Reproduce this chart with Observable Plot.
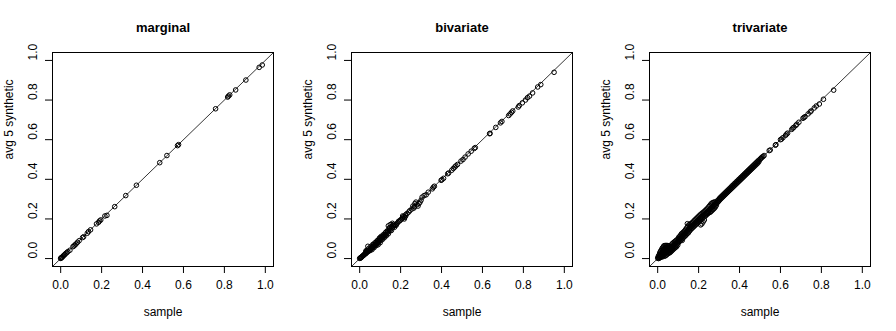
<!DOCTYPE html>
<html>
<head>
<meta charset="utf-8">
<script src="https://cdn.jsdelivr.net/npm/d3@7"></script>
<script src="https://cdn.jsdelivr.net/npm/@observablehq/plot@0.6"></script>
<style>
  body { margin: 0; background: white; }
  #wrap { position: relative; width: 896px; height: 331px; background: white; }
</style>
</head>
<body>
<div id="wrap"></div>
<script>
// Panel titles
const titles = ["marginal", "bivariate", "trivariate"];
const xLabel = "sample";
const yLabel = "avg 5 synthetic";
const tickValues = [0, 0.2, 0.4, 0.6, 0.8, 1.0];
const axisDomain = [-0.04, 1.04];

// [sample, avg 5 synthetic]
const marginalPts = [
  [0.985,0.977],[0.97,0.965],[0.905,0.901],[0.855,0.851],[0.826,0.826],[0.82,0.82],[0.816,0.815],
  [0.757,0.756],[0.576,0.575],[0.571,0.57],[0.519,0.52],[0.484,0.484],[0.37,0.37],[0.318,0.318],
  [0.264,0.262],[0.226,0.218],[0.216,0.215],[0.196,0.195],[0.19,0.19],[0.185,0.183],[0.175,0.175],
  [0.146,0.145],[0.136,0.136],[0.13,0.128],[0.112,0.11],[0.107,0.106],[0.09,0.09],[0.082,0.082],
  [0.075,0.074],[0.07,0.069],[0.065,0.064],[0.06,0.06],[0.045,0.042],[0.035,0.035],[0.03,0.03],
  [0.025,0.026],[0.02,0.02],[0.016,0.017],[0.012,0.012],[0.008,0.008],[0.005,0.006],[0.003,0.004],
  [0.001,0.002],[0.0,0.001]
];

const bivariatePts = [
  [0.95,0.94],[0.885,0.878],[0.87,0.866],[0.845,0.836],[0.83,0.82],[0.82,0.812],[0.81,0.8],
  [0.795,0.786],[0.78,0.772],[0.775,0.765],[0.748,0.745],[0.742,0.738],[0.735,0.73],[0.728,0.722],
  [0.695,0.692],[0.688,0.685],[0.665,0.662],[0.637,0.632],[0.635,0.63],[0.565,0.56],[0.56,0.556],
  [0.545,0.542],[0.53,0.528],[0.515,0.512],[0.505,0.5],[0.495,0.492],[0.478,0.475],[0.47,0.468],
  [0.465,0.462],[0.458,0.455],[0.45,0.446],[0.435,0.432],[0.43,0.428],[0.41,0.405],[0.402,0.398],
  [0.398,0.395],[0.365,0.365],[0.36,0.36],[0.355,0.352],[0.335,0.335],[0.325,0.322],[0.315,0.318],
  [0.305,0.31],[0.3,0.295],[0.295,0.285],[0.29,0.278],[0.285,0.265],[0.28,0.272],[0.275,0.285],
  [0.27,0.278],[0.268,0.262],[0.265,0.255],[0.26,0.265],[0.255,0.25],[0.245,0.242],[0.24,0.235],
  [0.232,0.228],[0.225,0.215],[0.22,0.208],[0.218,0.2],[0.215,0.212],[0.21,0.205],[0.205,0.2],
  [0.195,0.19],[0.19,0.188],[0.18,0.175],[0.178,0.168],[0.175,0.17],[0.17,0.168],[0.165,0.165],
  [0.16,0.178],[0.16,0.155],[0.155,0.16],[0.15,0.172],[0.15,0.148],[0.148,0.14],[0.145,0.15],
  [0.14,0.165],[0.14,0.138],[0.135,0.13],[0.13,0.135],[0.128,0.122],[0.125,0.118],[0.12,0.12],
  [0.118,0.112],[0.115,0.108],[0.11,0.11],[0.108,0.1],[0.105,0.105],[0.1,0.098],[0.1,0.09],
  [0.098,0.105],[0.095,0.092],[0.092,0.085],[0.09,0.078],[0.088,0.09],[0.085,0.08],[0.082,0.075],
  [0.08,0.082],[0.078,0.07],[0.075,0.072],[0.072,0.065],[0.07,0.062],[0.068,0.07],[0.065,0.058],
  [0.062,0.06],[0.06,0.052],[0.058,0.055],[0.055,0.05],[0.052,0.045],[0.05,0.048],[0.048,0.042],
  [0.045,0.04],[0.042,0.038],[0.04,0.062],[0.04,0.035],[0.038,0.04],[0.035,0.03],[0.032,0.032],
  [0.03,0.025],[0.028,0.028],[0.025,0.022],[0.022,0.02],[0.02,0.018],[0.018,0.015],[0.015,0.014],
  [0.012,0.01],[0.01,0.009],[0.008,0.006],[0.006,0.005],[0.004,0.004],[0.002,0.002],[0.0,0.001],
  [0.03,0.038],[0.035,0.042],[0.045,0.052],[0.05,0.04],[0.055,0.062],[0.06,0.045],[0.065,0.072],
  [0.07,0.055],[0.075,0.08],[0.08,0.065],[0.085,0.09],[0.09,0.07],[0.095,0.1],[0.1,0.08],
  [0.105,0.112],[0.11,0.095],[0.115,0.12],[0.12,0.105],[0.125,0.13],[0.13,0.115],[0.135,0.14],
  [0.14,0.125],[0.145,0.155],[0.155,0.142],[0.165,0.172],[0.17,0.158],[0.185,0.18],[0.2,0.195],
  [0.21,0.215],[0.225,0.222]
];

const trivariatePts = [
  [0,0.002],[0.002,0.008],[0.004,0.0],[0.005,0.015],[0.006,0.006],[0.008,0.02],[0.008,0.003],
  [0.01,0.012],[0.01,0.028],[0.012,0.005],[0.013,0.035],[0.014,0.018],[0.015,0.008],[0.016,0.04],
  [0.017,0.025],[0.018,0.012],[0.02,0.048],[0.02,0.03],[0.021,0.018],[0.022,0.008],[0.024,0.055],
  [0.024,0.038],[0.025,0.022],[0.026,0.012],[0.028,0.06],[0.028,0.045],[0.029,0.03],[0.03,0.018],
  [0.031,0.065],[0.032,0.05],[0.033,0.036],[0.034,0.022],[0.035,0.012],[0.036,0.066],[0.037,0.055],
  [0.038,0.042],[0.039,0.028],[0.04,0.016],[0.041,0.066],[0.042,0.056],[0.043,0.045],[0.044,0.032],
  [0.045,0.02],[0.046,0.066],[0.047,0.058],[0.048,0.048],[0.049,0.036],[0.05,0.025],[0.051,0.065],
  [0.052,0.055],[0.053,0.045],[0.054,0.032],[0.055,0.028],[0.056,0.064],[0.057,0.052],[0.058,0.04],
  [0.06,0.03],[0.061,0.06],[0.062,0.05],[0.063,0.042],[0.065,0.035],[0.066,0.068],[0.067,0.058],
  [0.068,0.048],[0.07,0.04],[0.071,0.075],[0.072,0.062],[0.074,0.052],[0.075,0.045],[0.076,0.08],
  [0.078,0.068],[0.079,0.058],[0.08,0.05],[0.082,0.085],[0.083,0.072],[0.085,0.062],[0.086,0.055],
  [0.088,0.09],[0.089,0.078],[0.09,0.068],[0.092,0.06],[0.094,0.095],[0.095,0.085],[0.096,0.075],
  [0.098,0.068],[0.1,0.1],[0.1,0.088],[0.101,0.08],
  [0.103,0.108],[0.104,0.095],[0.106,0.085],[0.108,0.112],[0.109,0.1],[0.11,0.09],[0.112,0.118],
  [0.113,0.105],[0.115,0.095],[0.116,0.125],[0.118,0.11],[0.12,0.092],[0.12,0.1],[0.122,0.13],
  [0.123,0.116],[0.125,0.105],[0.127,0.135],[0.128,0.122],[0.13,0.11],[0.132,0.14],[0.133,0.127],
  [0.135,0.115],[0.137,0.148],[0.138,0.132],[0.14,0.12],[0.142,0.155],[0.143,0.138],[0.145,0.176],
  [0.145,0.127],[0.147,0.162],[0.148,0.145],[0.15,0.13],[0.152,0.17],[0.153,0.15],[0.155,0.138],
  [0.157,0.172],[0.158,0.156],[0.16,0.145],[0.162,0.176],[0.163,0.16],[0.165,0.15],[0.167,0.18],
  [0.168,0.165],[0.17,0.155],[0.172,0.184],[0.173,0.17],[0.175,0.16],[0.177,0.19],[0.178,0.175],
  [0.18,0.165],[0.182,0.195],[0.183,0.18],[0.185,0.17],[0.187,0.2],[0.188,0.185],[0.19,0.175],
  [0.192,0.205],[0.193,0.19],[0.195,0.18],[0.197,0.21],[0.198,0.195],[0.2,0.185],
  [0.202,0.215],[0.203,0.2],[0.205,0.19],[0.207,0.22],[0.208,0.205],[0.21,0.17],[0.21,0.195],
  [0.212,0.225],[0.213,0.21],[0.215,0.2],[0.216,0.175],[0.218,0.23],[0.219,0.215],[0.22,0.205],
  [0.222,0.185],[0.224,0.235],[0.225,0.22],[0.227,0.21],[0.228,0.195],[0.23,0.24],[0.231,0.225],
  [0.233,0.215],[0.235,0.245],[0.236,0.23],[0.238,0.22],[0.24,0.25],[0.241,0.235],[0.243,0.225],
  [0.245,0.255],[0.246,0.24],[0.248,0.23],[0.25,0.262],[0.251,0.245],[0.253,0.232],[0.255,0.268],
  [0.256,0.25],[0.258,0.235],[0.26,0.275],[0.261,0.255],[0.263,0.24],[0.265,0.28],[0.266,0.26],
  [0.268,0.245],[0.27,0.282],[0.271,0.265],[0.273,0.25],[0.275,0.285],[0.276,0.27],[0.278,0.255],
  [0.28,0.285],[0.281,0.275],[0.283,0.262],[0.285,0.28],[0.287,0.27],[0.29,0.29],[0.292,0.282],
  [0.295,0.295],[0.297,0.288],[0.3,0.3],[0.3,0.292],
  [0.303,0.305],[0.305,0.298],[0.308,0.31],[0.31,0.303],[0.313,0.315],[0.315,0.308],[0.318,0.32],
  [0.32,0.313],[0.323,0.325],[0.325,0.318],[0.328,0.33],[0.33,0.323],[0.333,0.335],[0.335,0.328],
  [0.338,0.34],[0.34,0.333],[0.343,0.345],[0.345,0.338],[0.348,0.35],[0.35,0.343],[0.353,0.355],
  [0.355,0.348],[0.358,0.36],[0.36,0.353],[0.363,0.366],[0.365,0.358],[0.368,0.37],[0.37,0.363],
  [0.373,0.376],[0.375,0.368],[0.378,0.38],[0.38,0.373],[0.383,0.386],[0.385,0.378],[0.388,0.39],
  [0.39,0.383],[0.393,0.396],[0.395,0.388],[0.398,0.4],[0.4,0.393],[0.403,0.406],[0.405,0.398],
  [0.408,0.41],[0.41,0.403],[0.413,0.416],[0.415,0.408],[0.418,0.42],[0.42,0.413],[0.423,0.426],
  [0.425,0.418],[0.428,0.43],[0.43,0.423],[0.433,0.436],[0.435,0.428],[0.438,0.44],[0.44,0.433],
  [0.443,0.446],[0.445,0.438],[0.448,0.45],[0.45,0.443],[0.453,0.456],[0.455,0.448],[0.458,0.46],
  [0.46,0.453],[0.463,0.466],[0.465,0.458],[0.468,0.47],[0.47,0.463],[0.473,0.476],[0.475,0.468],
  [0.478,0.48],[0.48,0.473],[0.483,0.486],[0.485,0.478],[0.488,0.49],[0.49,0.483],[0.493,0.496],
  [0.495,0.49],[0.5,0.5],[0.503,0.505],[0.507,0.508],[0.51,0.512],[0.515,0.515],[0.52,0.52],
  [0.545,0.545],[0.55,0.548],[0.575,0.572],[0.578,0.575],[0.6,0.6],[0.605,0.603],[0.612,0.61],
  [0.625,0.622],[0.63,0.628],[0.635,0.633],[0.655,0.652],[0.66,0.658],[0.665,0.662],[0.675,0.672],
  [0.68,0.678],[0.69,0.688],[0.71,0.708],[0.715,0.712],[0.72,0.716],[0.735,0.73],[0.745,0.74],
  [0.75,0.745],[0.765,0.76],[0.775,0.77],[0.79,0.78],[0.81,0.804],[0.86,0.85]
];

const panels = [marginalPts, bivariatePts, trivariatePts];
const fmt = d => d.toFixed(1);

function panel(title, pts) {
  return Plot.plot({
    width: 299, height: 331,
    marginLeft: 52, marginRight: 26, marginTop: 52, marginBottom: 65,
    x: {domain: axisDomain},
    y: {domain: axisDomain},
    style: {fontFamily: "'Liberation Sans', Arial, sans-serif", fontSize: "12px", color: "black", background: "white", overflow: "visible"},
    marks: [
      Plot.line(axisDomain.map(d => [d, d]), {x: d => d[0], y: d => d[1], stroke: "black", strokeWidth: 0.8}),
      Plot.dot(pts, {x: d => d[0], y: d => d[1], r: 2.3, stroke: "black", strokeWidth: 1, fill: "none"}),
      Plot.frame({stroke: "black", strokeWidth: 1}),
      Plot.axisX(tickValues, {tickSize: 7, tickPadding: 7, tickFormat: fmt, label: null, stroke: "black", fill: "black"}),
      Plot.axisY(tickValues, {tickSize: 7, tickFormat: () => "", label: null, stroke: "black"}),
      Plot.text(tickValues, {y: d => d, text: fmt, frameAnchor: "left", dx: -19, rotate: -90, fill: "black"}),
      Plot.text([title], {text: d => d, frameAnchor: "top", lineAnchor: "middle", dy: -25, fontWeight: "bold", fontSize: 13, fill: "black"}),
      Plot.text([xLabel], {text: d => d, frameAnchor: "bottom", lineAnchor: "middle", dy: 46, fill: "black"}),
      Plot.text([yLabel], {text: d => d, frameAnchor: "left", lineAnchor: "middle", dx: -43, rotate: -90, fill: "black"})
    ]
  });
}

const wrap = document.getElementById("wrap");
const lefts = [0, 298.67, 597.33];
titles.forEach((t, i) => {
  const el = panel(t, panels[i]);
  el.style.position = "absolute";
  el.style.left = lefts[i] + "px";
  el.style.top = "0px";
  wrap.appendChild(el);
});
</script>
</body>
</html>
